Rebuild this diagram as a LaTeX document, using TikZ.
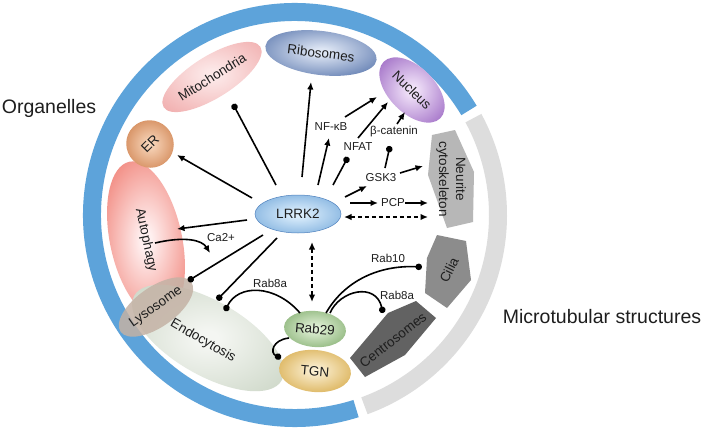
\documentclass[tikz,border=0pt]{standalone}
\usepackage{fontspec}
\setmainfont{Liberation Sans}
\usetikzlibrary{shapes.geometric,arrows.meta}
\definecolor{ringblue}{RGB}{93,163,218}
\definecolor{ringgray}{RGB}{221,221,221}
\definecolor{neurc}{RGB}{183,183,183}
\definecolor{ciliac}{RGB}{140,140,140}
\definecolor{centroc}{RGB}{98,98,98}
\definecolor{lysoc}{RGB}{196,178,165}
\definecolor{txt}{RGB}{30,30,30}
\colorlet{myic}{white}
\colorlet{myoc}{gray}
\pgfdeclareradialshading[myic,myoc]{orb}{\pgfpoint{0bp}{0bp}}{color(0bp)=(myic); color(3bp)=(myic); color(35bp)=(myoc); color(72bp)=(myoc)}
\begin{document}
\begin{tikzpicture}[x=1pt,y=1pt,
  lab/.style={font=\fontsize{13.5}{17}\selectfont, text=txt},
  sm/.style={font=\fontsize{11.5}{13}\selectfont, text=txt, inner sep=1pt},
  big/.style={font=\fontsize{19.5}{23}\selectfont, text=txt},
  ic/.code={\definecolor{myic}{RGB}{#1}},
  oc/.code={\definecolor{myoc}{RGB}{#1}},
  orb/.style={ellipse, shading=orb, inner sep=0pt, lab},
  arr/.style={line width=1.6pt, -{Latex[length=7.5pt,width=6.5pt]}},
  balltip/.style={line width=1.6pt, -{Circle[length=6.5pt]}},
  dashboth/.style={line width=1.6pt, dash pattern=on 4pt off 3pt, {Latex[length=7.5pt,width=6.5pt]}-{Latex[length=7.5pt,width=6.5pt]}},
]
\fill[white] (0,0) rectangle (709,-428);
\useasboundingbox (0,0) rectangle (709,-428);

% rings
\draw[ringblue, line width=18pt] (295,-215) ++(31:203) arc[start angle=31, end angle=287.5, radius=203pt];
\draw[ringgray, line width=18pt] (295,-215) ++(-70:203) arc[start angle=-70, end angle=28.5, radius=203pt];

\node[big] (organelles) at (49,-108) {Organelles};
\node[big] (micro) at (602,-317) {Microtubular structures};

% microtubular structures
\fill[neurc] (432,-135) -- (455,-130) -- (474,-172) -- (473,-222) -- (447,-228) -- (428,-175) -- cycle;
\node[lab, rotate=-90, align=center] (neurite) at (451,-179) {Neurite\\cytoskeleton};
\fill[ciliac] (437,-235) -- (466,-241) -- (471,-280) -- (447,-308) -- (425,-293) -- (427,-258) -- cycle;
\node[lab, rotate=64] (cilia) at (449,-270) {Cilia};
\fill[centroc] (350,-358) -- (388,-313) -- (416,-301) -- (436,-318) -- (405,-355) -- (365,-377) -- cycle;
\node[lab, rotate=38] (centro) at (393,-340) {Centrosomes};

% organelles
\node[orb, ic={255,240,240}, oc={238,112,100}, minimum width=160pt, minimum height=72pt, rotate=-78] (autoph) at (146,-240) {Autophagy};
\node[orb, ic={244,246,242}, oc={200,211,194}, minimum width=170pt, minimum height=74pt, rotate=-30] (endo) at (208,-338) {};
\node[lab, rotate=-30] (endotxt) at (203,-341) {Endocytosis};
\node[ellipse, fill=lysoc, fill opacity=0.85, text opacity=1, lab, inner sep=0pt, minimum width=68pt, minimum height=40pt, rotate=35] (lyso) at (156,-307) {Lysosome};
\node[orb, ic={246,210,182}, oc={200,115,60}, minimum width=47pt, minimum height=48pt, rotate=45] (er) at (150,-144) {ER};
\node[orb, ic={252,232,232}, oc={240,170,170}, minimum width=114pt, minimum height=42pt, rotate=32] (mito) at (212,-77) {Mitochondria};
\node[orb, ic={222,230,244}, oc={84,114,170}, minimum width=112pt, minimum height=44pt, rotate=-7] (ribo) at (321,-53) {Ribosomes};
\node[orb, ic={240,225,248}, oc={145,88,188}, minimum width=80pt, minimum height=46pt, rotate=-45] (nucleus) at (412,-90) {Nucleus};
\node[orb, ic={220,238,252}, oc={115,168,218}, draw={rgb,255:red,80;green,130;blue,190}, line width=0.5pt, minimum width=86pt, minimum height=38pt] (lrrk) at (298,-214) {LRRK2};
\node[orb, ic={224,240,214}, oc={125,170,105}, minimum width=62pt, minimum height=36pt, rotate=-5] (rab29) at (315,-329) {Rab29};
\node[orb, ic={250,238,208}, oc={212,165,62}, minimum width=72pt, minimum height=42pt, rotate=-5] (tgn) at (315,-371) {TGN};

% small labels
\node[sm] (nfkb) at (331,-127) {NF-κB};
\node[sm] (nfat) at (358,-147) {NFAT};
\node[sm] (bcat) at (394,-132) {β-catenin};
\node[sm] (gsk3) at (381,-178) {GSK3};
\node[sm] (pcp) at (393,-203) {PCP};
\node[sm] (ca) at (221,-238) {Ca2+};
\node[sm] (rab8a) at (270,-283) {Rab8a};
\node[sm] (rab10) at (388,-258) {Rab10};
\node[sm] (rab8b) at (397,-295) {Rab8a};

% connector end points
\coordinate (l-er) at (252,-198);   \coordinate (er-in) at (177,-155);
\coordinate (l-mi) at (276,-185);   \coordinate (mi-in) at (233,-104);
\coordinate (l-ri) at (302,-177);   \coordinate (ri-in) at (311,-82);
\coordinate (l-nf) at (318,-185);   \coordinate (nf-in) at (329,-138);
\coordinate (nf-o) at (345,-117);   \coordinate (nu-a) at (377,-97);
\coordinate (l-na) at (333,-185);   \coordinate (na-in) at (348,-157);
\coordinate (na-o) at (358,-138);   \coordinate (nu-b) at (388,-102);
\coordinate (bc-o) at (397,-124);   \coordinate (nu-c) at (405,-112);
\coordinate (gs-u) at (385,-168);   \coordinate (bc-in) at (390,-146);
\coordinate (l-gs) at (345,-197);   \coordinate (gs-in) at (367,-186);
\coordinate (gs-o) at (400,-173);   \coordinate (ne-a) at (423,-166);
\coordinate (l-pc) at (350,-203);   \coordinate (pc-in) at (378,-203);
\coordinate (pc-o) at (405,-203);   \coordinate (ne-b) at (428,-203);
\coordinate (l-nd) at (344,-217);   \coordinate (ne-c) at (428,-217);
\coordinate (l-au) at (247,-220);   \coordinate (au-in) at (177,-229);
\coordinate (au-o) at (155,-243);   \coordinate (ca-in) at (210,-253);
\coordinate (l-ly) at (263,-235);   \coordinate (ly-in) at (188,-281);
\coordinate (l-en) at (277,-238);   \coordinate (en-in) at (217,-300);
\coordinate (l-rb) at (312,-242);   \coordinate (rb-in) at (312,-302);
\coordinate (rb-a) at (300,-313);   \coordinate (en-b) at (225,-311);
\coordinate (rb-t) at (289,-338);   \coordinate (tg-in) at (281,-358);
\coordinate (rb-c) at (326,-313);   \coordinate (ci-in) at (422,-267);
\coordinate (rb-d) at (330,-313);   \coordinate (ce-in) at (383,-313);

% connectors
\draw[arr] (l-er) -- (er-in);
\draw[balltip] (l-mi) -- (mi-in);
\draw[arr] (l-ri) -- (ri-in);
\draw[arr] (l-nf) -- (nf-in);
\draw[arr] (nf-o) -- (nu-a);
\draw[balltip] (l-na) -- (na-in);
\draw[arr] (na-o) -- (nu-b);
\draw[arr] (bc-o) -- (nu-c);
\draw[balltip] (gs-u) -- (bc-in);
\draw[arr] (l-gs) -- (gs-in);
\draw[arr] (gs-o) -- (ne-a);
\draw[arr] (l-pc) -- (pc-in);
\draw[arr] (pc-o) -- (ne-b);
\draw[dashboth] (l-nd) -- (ne-c);
\draw[arr] (l-au) -- (au-in);
\draw[arr] (au-o) .. controls (185,-236) and (202,-240) .. (ca-in);
\draw[balltip] (l-ly) -- (ly-in);
\draw[balltip] (l-en) -- (en-in);
\draw[dashboth] (l-rb) -- (rb-in);
\draw[balltip] (rb-a) .. controls (275,-284) and (238,-284) .. (en-b);
\draw[balltip] (rb-t) .. controls (272,-340) and (270,-353) .. (tg-in);
\draw[balltip] (rb-c) .. controls (345,-280) and (380,-265) .. (ci-in);
\draw[balltip] (rb-d) .. controls (340,-290) and (376,-282) .. (ce-in);
\end{tikzpicture}
\end{document}
